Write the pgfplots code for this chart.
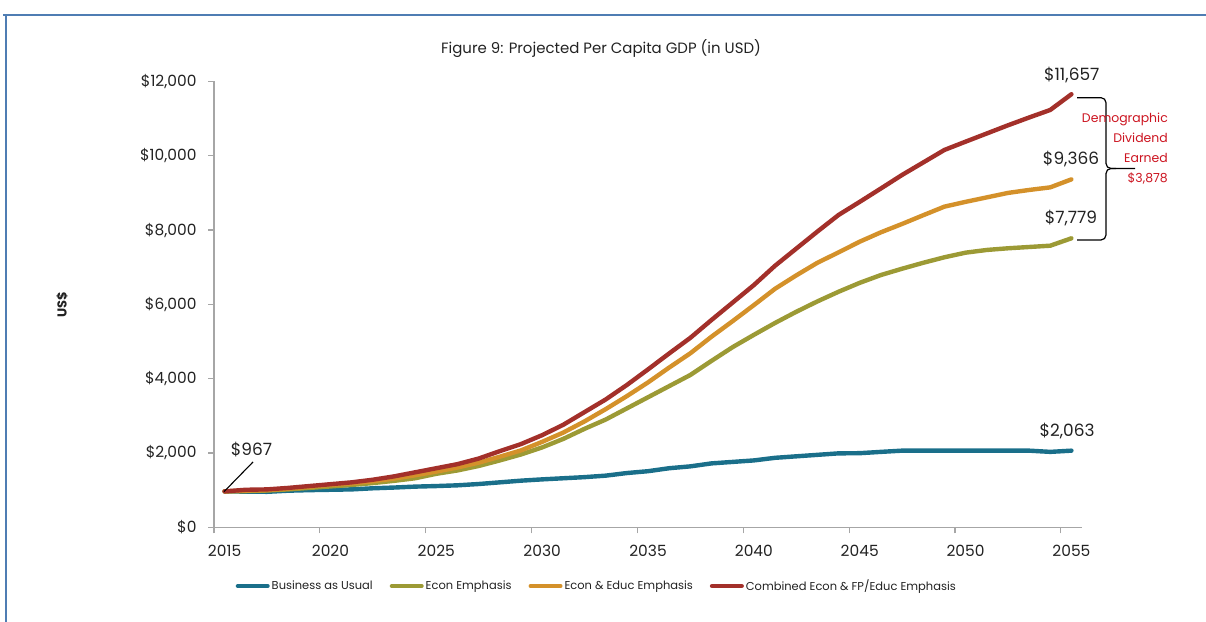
\documentclass[border=0pt]{standalone}
\usepackage{fontspec}
\setmainfont{Poppins}
\usepackage{pgfplots}
\usepackage{pgfplotstable}
\pgfplotsset{compat=1.18}

\definecolor{bauCol}{HTML}{1A6F8A}
\definecolor{econCol}{HTML}{9C9A35}
\definecolor{educCol}{HTML}{D4912A}
\definecolor{combCol}{HTML}{A3302A}
\definecolor{axisGray}{HTML}{A6A6A6}
\definecolor{frameCol}{HTML}{4F7DB3}
\definecolor{noteRed}{HTML}{CC1420}
\definecolor{txt}{HTML}{222222}

% per capita GDP, US$
\pgfplotstableread{
year bau  econ  educ  comb
2015 967  967   967   967
2016 960  975   985   1010
2017 955  990   1000  1020
2018 985  1020  1040  1060
2019 1000 1060  1090  1110
2020 1010 1100  1140  1160
2021 1020 1140  1180  1210
2022 1050 1190  1240  1280
2023 1070 1250  1310  1370
2024 1095 1320  1400  1480
2025 1110 1440  1500  1590
2026 1130 1530  1610  1700
2027 1165 1650  1740  1850
2028 1210 1800  1900  2050
2029 1255 1960  2070  2240
2030 1290 2150  2300  2480
2031 1320 2380  2550  2760
2032 1350 2650  2850  3100
2033 1390 2900  3180  3440
2034 1460 3200  3530  3830
2035 1510 3500  3900  4250
2036 1590 3800  4300  4680
2037 1640 4100  4684  5100
2038 1720 4480  5131  5581
2039 1760 4850  5550  6050
2040 1800 5180  5980  6520
2041 1870 5500  6420  7040
2042 1910 5800  6780  7500
2043 1950 6080  7120  7960
2044 1990 6340  7400  8407
2045 1995 6580  7688  8760
2046 2030 6790  7940  9120
2047 2063 6960  8165  9484
2048 2063 7120  8400  9820
2049 2063 7268  8631  10157
2050 2063 7392  8760  10380
2051 2063 7465  8880  10600
2052 2063 7510  9000  10820
2053 2063 7545  9080  11030
2054 2030 7580  9150  11234
2055 2063 7779  9366  11657
}\gdp

\begin{document}
\begin{tikzpicture}[x=1bp,y=1bp]
\useasboundingbox (0,0) rectangle (1206,622);
% partial frame
\draw[frameCol, line width=1.5bp] (3,607) -- (1206,607);
\draw[frameCol, line width=1.5bp] (6,607) -- (6,0);

\begin{axis}[
    at={(214bp,94.7bp)}, anchor=south west,
    scale only axis, width=868bp, height=445.8bp,
    xmin=2014.5, xmax=2055.5,
    ymin=0, ymax=12000,
    scaled y ticks=false,
    axis lines*=left,
    axis line style={axisGray, line width=1.3bp},
    tick style={axisGray, line width=1.2bp},
    tick align=outside,
    major tick length=6bp,
    xtick={2014.5,2019.5,...,2054.5},
    xticklabels={2015,2020,2025,2030,2035,2040,2045,2050,2055},
    x tick label style={xshift=10.6bp, yshift=-8bp},
    ytick={0,2000,...,12000},
    yticklabels={\$0,{\$2,000},{\$4,000},{\$6,000},{\$8,000},{\$10,000},{\$12,000}},
    y tick label style={xshift=-8bp},
    ticklabel style={font=\fontsize{15.5}{17}\selectfont, text=txt},
    clip=false,
    legend columns=4,
    legend style={draw=none, fill=none, at={(0.441,-0.1317)}, anchor=center,
        font=\fontsize{11.5}{13}\selectfont, text=txt,
        /tikz/every even column/.append style={column sep=15bp}},
    legend image code/.code={\draw[#1, line width=4bp, line cap=round] (0bp,0bp) -- (30bp,0bp);},
    every axis plot/.append style={line width=4.4bp, line join=round, line cap=round},
]
\addplot[bauCol]  table[x=year, y=bau]  {\gdp};
\addplot[econCol] table[x=year, y=econ] {\gdp};
\addplot[educCol] table[x=year, y=educ] {\gdp};
\addplot[combCol] table[x=year, y=comb] {\gdp};
\legend{Business as Usual, Econ Emphasis, Econ \& Educ Emphasis, Combined Econ \& FP/Educ Emphasis}
\end{axis}

% title and axis label
\node[font=\fontsize{15}{17}\selectfont, text=txt] at (601,573) {Figure 9: Projected Per Capita GDP (in USD)};
\node[font=\fontsize{13}{15}\selectfont\bfseries, text=txt, rotate=90] at (62,317) {US\$};

% value labels
\begin{scope}[font=\fontsize{17}{19}\selectfont, text=txt]
\node at (1071.7,547) {\$11,657};
\node at (1071,463) {\$9,366};
\node at (1071,404) {\$7,779};
\node at (1067,191) {\$2,063};
\node at (251.5,172) {\$967};
\end{scope}
\draw[black, line width=1.1bp] (224,130.3) -- (253,160);

% brace between the two scenarios
\draw[black, line width=1.2bp, rounded corners=5bp] (1077,524.3) -- (1106,524.3) -- (1106,453.5) -- (1135,453.5);
\draw[black, line width=1.2bp, rounded corners=5bp] (1077,382) -- (1106,382) -- (1106,453.5) -- (1116,453.5);
\node[anchor=east, align=right, text=noteRed, font=\fontsize{12.5}{20}\selectfont, inner sep=0pt] at (1168,473.7)
    {Demographic\\Dividend\\Earned\\\$3,878};
\end{tikzpicture}
\end{document}
